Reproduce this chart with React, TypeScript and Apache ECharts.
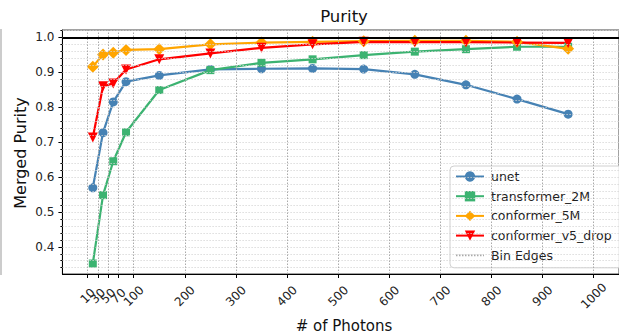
import React, { useEffect, useRef } from "react";
import * as echarts from "echarts";

const binCenters = [20, 40, 60, 85, 150, 250, 350, 450, 550, 650, 750, 850, 950];
const binEdges = [10, 30, 50, 70, 100, 200, 300, 400, 500, 600, 700, 800, 900, 1000];
const unet = [0.569, 0.727, 0.815, 0.873, 0.891, 0.908, 0.910, 0.911, 0.909, 0.894, 0.864, 0.823, 0.780];
const transformer2M = [0.352, 0.548, 0.645, 0.728, 0.849, 0.906, 0.927, 0.937, 0.949, 0.959, 0.966, 0.973, 0.973];
const conformer5M = [0.916, 0.951, 0.956, 0.964, 0.966, 0.980, 0.985, 0.987, 0.989, 0.990, 0.990, 0.987, 0.967];
const conformerV5Drop = [0.713, 0.860, 0.868, 0.908, 0.937, 0.954, 0.970, 0.980, 0.987, 0.986, 0.986, 0.985, 0.984];
const yTicks = [0.4, 0.5, 0.6, 0.7, 0.8, 0.9, 1.0];
const xTicks = binEdges;
const referenceLine = 1.0;

const Y_MIN = 0.322;
const Y_MAX = 1.021;
const X_MIN = -39.5;
const X_MAX = 1049.5;

const yMinor: number[] = [];
for (let i = 17; i <= 51; i++) yMinor.push(Math.round(i * 2) / 100);

// ECharts hides the 2nd label when it overlaps the 1st; split the labels over two overlaid axes
const xLabelsA = xTicks.filter((_, i) => i !== 1);
const xLabelsB = xTicks.filter((_, i) => i === 1);

const pairs = (ys: number[]) => binCenters.map((x, i) => [x, ys[i]]);

export default function App() {
  const ref = useRef<HTMLDivElement>(null);
  useEffect(() => {
    if (!ref.current) return;
    const chart = echarts.init(ref.current, undefined, { renderer: "svg" });
    const font = "DejaVu Sans";
    const lineSeries = (name: string, data: number[], color: string, symbol: string, size: any, extra: any = {}) => ({
      name,
      type: "line",
      data: pairs(data),
      symbol,
      symbolSize: size,
      showSymbol: true,
      lineStyle: { color, width: 2.2 },
      itemStyle: { color },
      emphasis: { disabled: true },
      z: 3,
      ...extra,
    });
    const xLabel = (values: number[]) => ({
      customValues: values,
      showMinLabel: true,
      showMaxLabel: true,
      hideOverlap: false,
      rotate: 45,
      align: "center",
      verticalAlign: "middle",
      margin: 22,
      fontSize: 12,
      color: "#222",
      fontFamily: font,
      formatter: (v: number) => String(v),
    });
    chart.setOption({
      animation: false,
      textStyle: { fontFamily: font },
      grid: {
        left: 62.4,
        top: 30,
        width: 562.7,
        height: 244,
        show: true,
        borderColor: "#444",
        borderWidth: 1,
        backgroundColor: "transparent",
      },
      xAxis: [
        {
          type: "value",
          min: X_MIN,
          max: X_MAX,
          axisLine: { show: true, onZero: false, lineStyle: { color: "#000", width: 1 } },
          axisTick: { show: true, customValues: xTicks, length: 4, lineStyle: { color: "#000" } },
          axisLabel: xLabel(xLabelsA),
          splitLine: { show: false },
        },
        {
          type: "value",
          min: X_MIN,
          max: X_MAX,
          position: "bottom",
          axisLine: { show: false, onZero: false },
          axisTick: { show: false },
          axisLabel: xLabel(xLabelsB),
          splitLine: { show: false },
        },
      ],
      yAxis: [
        {
          type: "value",
          min: Y_MIN,
          max: Y_MAX,
          axisLine: { show: true, onZero: false, lineStyle: { color: "#000", width: 1 } },
          axisTick: { show: true, customValues: yTicks, length: 4, lineStyle: { color: "#000" } },
          axisLabel: {
            customValues: yTicks,
            margin: 8,
            fontSize: 12,
            color: "#222",
            fontFamily: font,
            formatter: (v: number) => v.toFixed(1),
          },
          splitLine: { show: false },
        },
        {
          type: "value",
          min: Y_MIN,
          max: Y_MAX,
          position: "left",
          axisLine: { show: false, onZero: false },
          axisTick: { show: true, customValues: yMinor, length: 2, lineStyle: { color: "#000" } },
          axisLabel: { show: false },
          splitLine: { show: false },
        },
      ],
      legend: {
        orient: "vertical",
        left: 450,
        top: 166,
        width: 168,
        data: [
          "unet",
          "transformer_2M",
          "conformer_5M",
          "conformer_v5_drop",
          { name: "Bin Edges", itemStyle: { opacity: 0 } },
        ],
        backgroundColor: "rgba(255,255,255,0.85)",
        borderColor: "#d0d0d0",
        borderWidth: 1,
        borderRadius: 4,
        padding: [4, 20, 6, 5],
        itemWidth: 28,
        itemHeight: 13,
        itemGap: 6.7,
        textStyle: { fontSize: 12.5, color: "#222", fontFamily: font, padding: [0, 0, 0, 2] },
      },
      graphic: [
        {
          type: "text",
          x: 344,
          y: 16,
          style: { text: "Purity", fontSize: 16.5, fontFamily: font, fill: "#111", align: "center", verticalAlign: "middle" },
        },
        {
          type: "text",
          x: 344,
          y: 326,
          style: { text: "# of Photons", fontSize: 15, fontFamily: font, fill: "#111", align: "center", verticalAlign: "middle" },
        },
        {
          type: "text",
          x: 20,
          y: 153,
          rotation: Math.PI / 2,
          style: { text: "Merged Purity", fontSize: 16, fontFamily: font, fill: "#111", align: "center", verticalAlign: "middle" },
        },
        {
          type: "line",
          shape: { x1: 1, y1: 29, x2: 1, y2: 275 },
          style: { stroke: "#bbb", lineWidth: 1.5 },
        },
      ],
      series: [
        {
          name: "gridlines",
          type: "line",
          data: [],
          silent: true,
          z: 1,
          markLine: {
            silent: true,
            symbol: "none",
            label: { show: false },
            animation: false,
            lineStyle: { color: "#d4d4d4", type: [1.5, 1.5], width: 0.8 },
            data: yMinor.map((v) => ({ yAxis: v })),
          },
        },
        {
          name: "Bin Edges",
          type: "line",
          data: [],
          symbol: "none",
          silent: true,
          z: 1,
          lineStyle: { color: "#aaa", type: [1.5, 1.5], width: 1 },
          itemStyle: { color: "#aaa" },
          markLine: {
            silent: true,
            symbol: "none",
            label: { show: false },
            animation: false,
            lineStyle: { color: "#aaa", type: [1.5, 1.5], width: 1 },
            data: binEdges.map((v) => ({ xAxis: v })),
          },
        },
        lineSeries("unet", unet, "#4682B4", "circle", 9),
        lineSeries("transformer_2M", transformer2M, "#3CB371", "rect", 8),
        lineSeries("conformer_5M", conformer5M, "#FFA500", "diamond", 12),
        lineSeries("conformer_v5_drop", conformerV5Drop, "#FF0000", "triangle", 10, { symbolRotate: 180 }),
        {
          name: "reference",
          type: "line",
          data: [],
          silent: true,
          z: 4,
          markLine: {
            silent: true,
            symbol: "none",
            label: { show: false },
            animation: false,
            lineStyle: { color: "#000", type: "solid", width: 2 },
            data: [{ yAxis: referenceLine }],
          },
        },
      ],
    });
    return () => chart.dispose();
  }, []);
  return (
    <div
      ref={ref}
      style={{ position: "absolute", left: 0, top: 0, width: 619, height: 334, background: "#fff" }}
    />
  );
}
